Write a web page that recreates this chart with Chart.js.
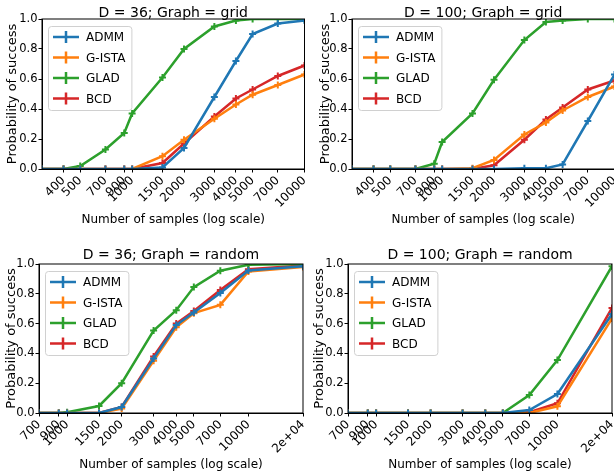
<!DOCTYPE html>
<html>
<head>
<meta charset="utf-8">
<script src="https://cdn.jsdelivr.net/npm/chart.js@4.4.0/dist/chart.umd.min.js"></script>
<style>
  html, body { margin: 0; padding: 0; background: #fff; overflow: hidden; width: 614px; height: 475px; }
  .panel { position: absolute; }
</style>
</head>
<body>
<div class="panel" style="left:0;top:0;width:310px;height:240px"><canvas id="c1"></canvas></div>
<div class="panel" style="left:310px;top:0;width:310px;height:240px"><canvas id="c2"></canvas></div>
<div class="panel" style="left:0;top:240px;width:310px;height:235px"><canvas id="c3"></canvas></div>
<div class="panel" style="left:310px;top:240px;width:310px;height:235px"><canvas id="c4"></canvas></div>
<script>
// Data sumbu x (jumlah sampel)
const sampelGrid = [300, 400, 500, 700, 900, 1000, 1500, 2000, 3000, 4000, 5000, 7000, 10000];
const sampelRandom = [700, 900, 1000, 1500, 2000, 3000, 4000, 5000, 7000, 10000, 20000];

// Posisi dan label tick sumbu x
const tickGrid = [400, 500, 700, 900, 1000, 1500, 2000, 3000, 4000, 5000, 7000, 10000];
const labelTickGrid = ['400', '500', '700', '900', '1000', '1500', '2000', '3000', '4000', '5000', '7000', '10000'];
const tickRandom = [700, 900, 1000, 1500, 2000, 3000, 4000, 5000, 7000, 10000, 20000];
const labelTickRandom = ['700', '900', '1000', '1500', '2000', '3000', '4000', '5000', '7000', '10000', '2e+04'];

// Nama metode dan warnanya
const namaMetode = ['ADMM', 'G-ISTA', 'GLAD', 'BCD'];
const warnaMetode = ['#1f77b4', '#ff7f0e', '#2ca02c', '#d62728'];

// D = 36, grid
const admm36Grid = [0, 0, 0, 0, 0, 0, 0.01, 0.14, 0.48, 0.72, 0.90, 0.97, 0.99];
const gista36Grid = [0, 0, 0, 0, 0, 0, 0.085, 0.195, 0.335, 0.43, 0.495, 0.56, 0.63];
const glad36Grid = [0, 0, 0.02, 0.13, 0.24, 0.37, 0.61, 0.80, 0.95, 0.99, 1.0, 1.0, 1.0];
const bcd36Grid = [0, 0, 0, 0, 0, 0, 0.04, 0.17, 0.35, 0.47, 0.53, 0.62, 0.69];

// D = 100, grid
const admm100Grid = [0, 0, 0, 0, 0, 0, 0, 0, 0.005, 0.005, 0.03, 0.32, 0.63];
const gista100Grid = [0, 0, 0, 0, 0, 0, 0.005, 0.06, 0.23, 0.31, 0.39, 0.48, 0.55];
const glad100Grid = [0, 0, 0, 0, 0.035, 0.18, 0.37, 0.595, 0.86, 0.98, 0.99, 1.0, 1.0];
const bcd100Grid = [0, 0, 0, 0, 0, 0, 0, 0.025, 0.195, 0.33, 0.41, 0.53, 0.59];

// D = 36, random
const admm36Random = [0, 0, 0, 0, 0.04, 0.365, 0.59, 0.675, 0.805, 0.957, 0.985];
const gista36Random = [0, 0, 0, 0, 0.03, 0.35, 0.575, 0.67, 0.726, 0.95, 0.98];
const glad36Random = [0, 0, 0.005, 0.047, 0.2, 0.553, 0.69, 0.845, 0.955, 0.995, 1.0];
const bcd36Random = [0, 0, 0, 0, 0.04, 0.38, 0.6, 0.685, 0.825, 0.965, 0.99];

// D = 100, random
const admm100Random = [0, 0, 0, 0, 0, 0, 0, 0, 0.02, 0.127, 0.665];
const gista100Random = [0, 0, 0, 0, 0, 0, 0, 0, 0, 0.045, 0.635];
const glad100Random = [0, 0, 0, 0, 0, 0, 0, 0, 0.12, 0.355, 0.985];
const bcd100Random = [0, 0, 0, 0, 0, 0, 0, 0, 0.005, 0.065, 0.705];

const FONT = '"DejaVu Sans", sans-serif';
Chart.defaults.font.family = FONT;

// Plugin untuk bingkai sumbu (spine) di keempat sisi
const bingkai = {
    id: 'bingkai',
    afterDatasetsDraw(chart) {
        const {ctx, chartArea} = chart;
        ctx.save();
        ctx.strokeStyle = '#000';
        ctx.lineWidth = 1;
        ctx.strokeRect(chartArea.left, chartArea.top, chartArea.right - chartArea.left, chartArea.bottom - chartArea.top);
        ctx.restore();
    }
};

// Plugin judul, ditaruh di tengah area plot (bukan tengah kanvas)
const judulTengah = {
    id: 'judulTengah',
    afterDraw(chart, args, opts) {
        const {ctx, chartArea} = chart;
        ctx.save();
        ctx.font = '14px ' + FONT;
        ctx.fillStyle = '#000';
        ctx.textAlign = 'center';
        ctx.textBaseline = 'middle';
        ctx.fillText(opts.text, (chartArea.left + chartArea.right) / 2, opts.y);
        ctx.restore();
    }
};

// Plugin legend di dalam area grafik (pojok kiri atas)
const legendDalam = {
    id: 'legendDalam',
    afterDraw(chart) {
        const {ctx, chartArea} = chart;
        const items = chart.data.datasets;
        const x0 = chartArea.left + 6;
        const y0 = chartArea.top + 7;
        ctx.save();
        ctx.font = '12px ' + FONT;
        const lebarTeks = Math.max(...items.map(d => ctx.measureText(d.label).width));
        const w = 38 + lebarTeks + 6;
        const h = 84;

        // Kotak legend
        ctx.beginPath();
        ctx.roundRect(x0 + 0.5, y0 + 0.5, w, h, 3);
        ctx.fillStyle = 'rgba(255,255,255,0.8)';
        ctx.fill();
        ctx.strokeStyle = '#d0d0d0';
        ctx.lineWidth = 1;
        ctx.stroke();

        items.forEach((d, i) => {
            const y = y0 + 11 + i * 20.5;
            ctx.strokeStyle = d.borderColor;
            ctx.lineWidth = 2.5;
            ctx.beginPath();
            ctx.moveTo(x0 + 5, y);
            ctx.lineTo(x0 + 31, y);
            ctx.moveTo(x0 + 18, y - 6);
            ctx.lineTo(x0 + 18, y + 6);
            ctx.stroke();
            ctx.fillStyle = '#000';
            ctx.textBaseline = 'middle';
            ctx.textAlign = 'left';
            ctx.fillText(d.label, x0 + 38, y + 1);
        });
        ctx.restore();
    }
};

// Fungsi untuk membuat satu panel grafik
function buatPanel(id, judul, sampel, nilaiTick, labelTick, seri, g) {
    const datasets = namaMetode.map((nama, i) => ({
        label: nama,
        data: sampel.map((x, j) => ({ x: x, y: seri[i][j] })),
        borderColor: warnaMetode[i],
        backgroundColor: warnaMetode[i],
        borderWidth: 2.5,
        pointStyle: 'cross',
        pointRadius: 3.5,
        pointBorderWidth: 2,
        pointHoverRadius: 3.5,
        tension: 0,
        fill: false
    }));

    return new Chart(document.getElementById(id), {
        type: 'line',
        data: { datasets: datasets },
        options: {
            responsive: true,
            maintainAspectRatio: false,
            animation: false,
            layout: { padding: { left: 0, right: g.padKanan, top: g.padAtas, bottom: 0 } },
            plugins: {
                legend: { display: false },
                tooltip: { enabled: false },
                title: { display: false },
                judulTengah: { text: judul, y: g.judulY }
            },
            scales: {
                x: {
                    type: 'logarithmic',
                    min: sampel[0],
                    max: sampel[sampel.length - 1],
                    afterBuildTicks: s => { s.ticks = nilaiTick.map(v => ({ value: v })); },
                    afterFit: s => { s.height = g.tinggiX; s.paddingLeft = 0; s.paddingRight = 0; },
                    ticks: {
                        autoSkip: false,
                        minRotation: 45,
                        maxRotation: 45,
                        padding: 1,
                        color: '#000',
                        font: { family: FONT, size: 12 },
                        callback: (v, i) => labelTick[i]
                    },
                    grid: { display: true, drawOnChartArea: false, tickLength: 3.5, color: '#000' },
                    border: { display: true, color: '#000' },
                    title: {
                        display: true,
                        text: 'Number of samples (log scale)',
                        color: '#000',
                        font: { family: FONT, size: 12 },
                        padding: { top: 0, bottom: g.padJudulX }
                    }
                },
                y: {
                    min: 0,
                    max: 1,
                    afterFit: s => { s.width = g.lebarY; s.paddingTop = 0; s.paddingBottom = 0; },
                    ticks: {
                        stepSize: 0.2,
                        padding: 1,
                        color: '#000',
                        font: { family: FONT, size: 11.5 },
                        callback: v => v.toFixed(1)
                    },
                    grid: { display: true, drawOnChartArea: false, tickLength: 3.5, color: '#000' },
                    border: { display: true, color: '#000' },
                    title: {
                        display: true,
                        text: 'Probability of success',
                        color: '#000',
                        font: { family: FONT, size: 13 },
                        padding: { top: g.padJudulY, bottom: 0 }
                    }
                }
            }
        },
        plugins: [bingkai, legendDalam, judulTengah]
    });
}

buatPanel('c1', 'D = 36; Graph = grid', sampelGrid, tickGrid, labelTickGrid,
    [admm36Grid, gista36Grid, glad36Grid, bcd36Grid],
    { padKanan: 3, padAtas: 19, judulY: 13, tinggiX: 71, padJudulX: 12.8, lebarY: 42, padJudulY: 4.5 });

buatPanel('c2', 'D = 100; Graph = grid', sampelGrid, tickGrid, labelTickGrid,
    [admm100Grid, gista100Grid, glad100Grid, bcd100Grid],
    { padKanan: 5, padAtas: 19, judulY: 13, tinggiX: 71, padJudulX: 12.8, lebarY: 42, padJudulY: 7.5 });

buatPanel('c3', 'D = 36; Graph = random', sampelRandom, tickRandom, labelTickRandom,
    [admm36Random, gista36Random, glad36Random, bcd36Random],
    { padKanan: 7, padAtas: 24, judulY: 15, tinggiX: 62, padJudulX: 2.8, lebarY: 39, padJudulY: 3.5 });

buatPanel('c4', 'D = 100; Graph = random', sampelRandom, tickRandom, labelTickRandom,
    [admm100Random, gista100Random, glad100Random, bcd100Random],
    { padKanan: 8, padAtas: 24, judulY: 15, tinggiX: 62, padJudulX: 2.8, lebarY: 38, padJudulY: 1.5 });
</script>
</body>
</html>
